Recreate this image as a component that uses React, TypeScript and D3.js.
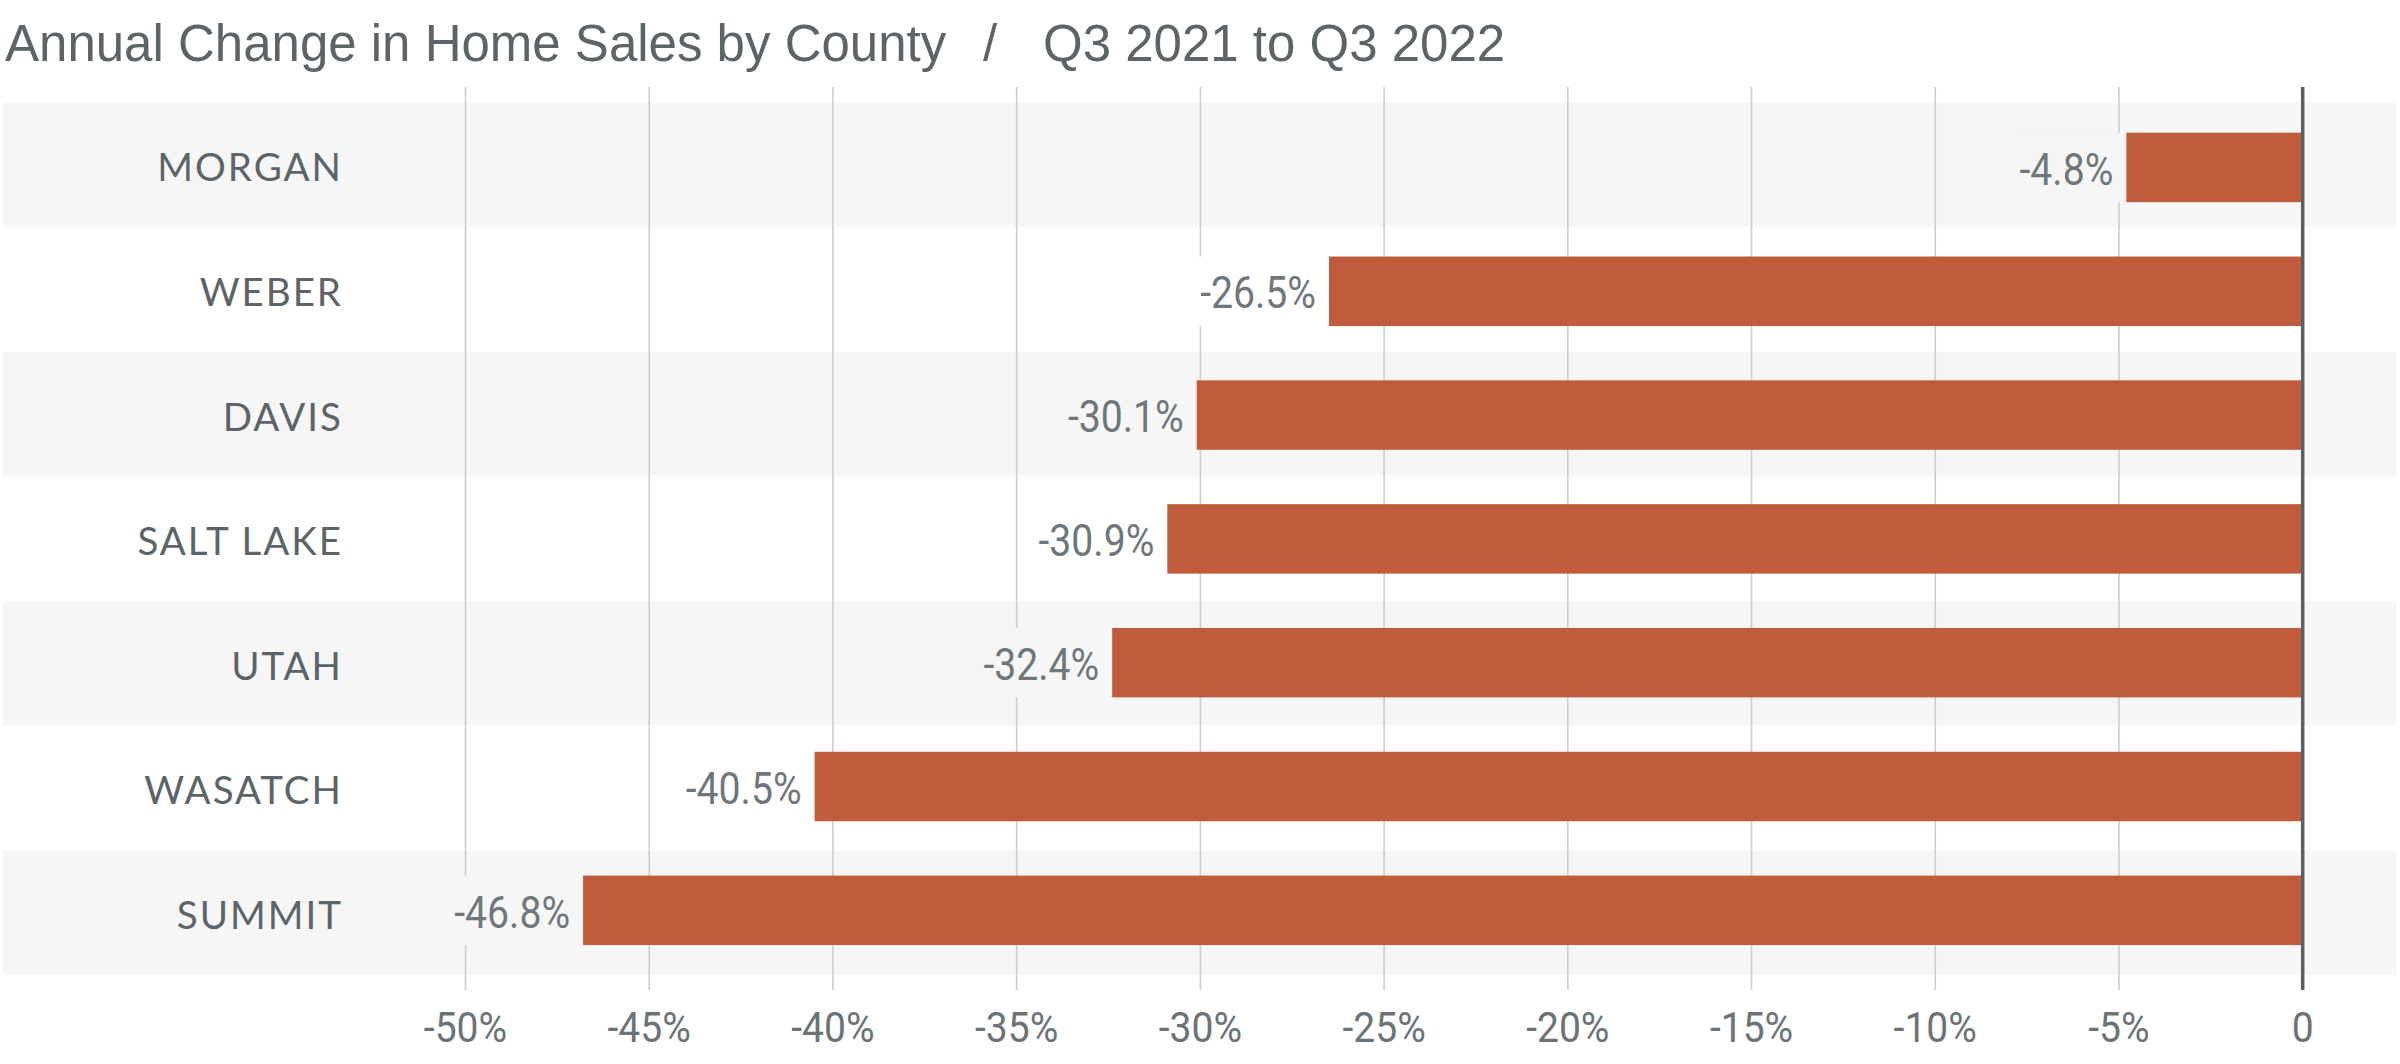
import React from "react";
import * as d3 from "d3";

const counties: string[] = ["MORGAN", "WEBER", "DAVIS", "SALT LAKE", "UTAH", "WASATCH", "SUMMIT"];
const changes: number[] = [-4.8, -26.5, -30.1, -30.9, -32.4, -40.5, -46.8];
const tickValues: number[] = [-50, -45, -40, -35, -30, -25, -20, -15, -10, -5, 0];
const titleMain = "Annual Change in Home Sales by County";
const titleSep = "/";
const titlePeriod = "Q3 2021 to Q3 2022";

const W = 2400;
const H = 1064;
const numFont = "Roboto, 'DejaVu Sans Condensed', sans-serif";
const VAL_SIZE = 45;
const VAL_SX = 0.87;
const TICK_SIZE = 42;
const TICK_SX = 0.93;

let ctx: CanvasRenderingContext2D | null = null;
function measure(text: string, size: number): number {
  if (!ctx) ctx = document.createElement("canvas").getContext("2d");
  if (!ctx) return text.length * size * 0.5;
  ctx.font = `${size}px Roboto`;
  return ctx.measureText(text).width;
}

export default function App() {
  const x = d3.scaleLinear().domain([-50, 0]).range([465.5, 2302.7]);
  const rows = d3.scaleBand<string>().domain(counties).range([102.7, 975]).padding(0);
  const bars = d3
    .scaleBand<string>()
    .domain(counties)
    .range([101.75, 976])
    .paddingInner(0.439)
    .paddingOuter(0.25);
  const fmtTick = (v: number) => (v === 0 ? "0" : `${v}%`);
  const bandFill = (i: number) => (i % 2 === 0 ? "#f6f6f6" : "#ffffff");
  const titleFont = "'Liberation Sans', Arial, sans-serif";

  return (
    <svg width={W} height={H} style={{ position: "absolute", left: 0, top: 0, background: "#fff" }}>
      {/* title */}
      <text x={5} y={61} fontFamily={titleFont} fontSize={51} fill="#5d6468">
        {titleMain}
      </text>
      <text x={983} y={61} fontFamily={titleFont} fontSize={51} fill="#5d6468">
        {titleSep}
      </text>
      <text x={1043} y={61} fontFamily={titleFont} fontSize={51} fill="#5d6468">
        {titlePeriod}
      </text>

      {/* row bands */}
      {counties.map((c, i) =>
        i % 2 === 0 ? (
          <rect key={"band" + c} x={3} y={rows(c)} width={2393} height={rows.bandwidth()} fill={bandFill(i)} />
        ) : null
      )}

      {/* grid lines */}
      {tickValues
        .filter((t) => t !== 0)
        .map((t) => (
          <line key={"g" + t} x1={x(t)} x2={x(t)} y1={87} y2={990} stroke="#cdcdcd" strokeWidth={1.6} />
        ))}

      {/* bars */}
      {counties.map((c, i) => (
        <rect
          key={"bar" + c}
          x={x(changes[i])}
          y={bars(c)}
          width={x(0) - x(changes[i])}
          height={bars.bandwidth()}
          fill="#c05c3b"
        />
      ))}

      {/* zero line */}
      <line x1={x(0)} x2={x(0)} y1={87} y2={990} stroke="#5a6166" strokeWidth={3.5} />

      {/* value labels with background masks */}
      {counties.map((c, i) => {
        const label = `${changes[i].toFixed(1)}%`;
        const w = measure(label, VAL_SIZE) * VAL_SX;
        const xr = x(changes[i]) - 13;
        const yTop = bars(c) as number;
        const yc = yTop + bars.bandwidth() / 2;
        return (
          <g key={"val" + c}>
            <rect x={xr - w - 6} y={yTop} width={x(changes[i]) - (xr - w - 6) - 1} height={bars.bandwidth()} fill={bandFill(i)} />
            <text
              transform={`translate(${xr},${yc + 1}) scale(${VAL_SX},1)`}
              dy="0.36em"
              textAnchor="end"
              fontFamily={numFont}
              fontSize={VAL_SIZE}
              fill="#70777b"
            >
              {label}
            </text>
          </g>
        );
      })}

      {/* category labels */}
      {counties.map((c) => (
        <text
          key={"cat" + c}
          x={343}
          y={(rows(c) as number) + rows.bandwidth() / 2 + 2.5}
          dy="0.36em"
          textAnchor="end"
          fontFamily="Lato, 'Open Sans', sans-serif"
          fontSize={38.5}
          letterSpacing={2.0}
          fill="#5d6468"
        >
          {c}
        </text>
      ))}

      {/* x tick labels */}
      {tickValues.map((t) => (
        <text
          key={"t" + t}
          transform={`translate(${x(t)},1042) scale(${TICK_SX},1)`}
          textAnchor="middle"
          fontFamily={numFont}
          fontSize={TICK_SIZE}
          fill="#6c7377"
        >
          {fmtTick(t)}
        </text>
      ))}
    </svg>
  );
}
